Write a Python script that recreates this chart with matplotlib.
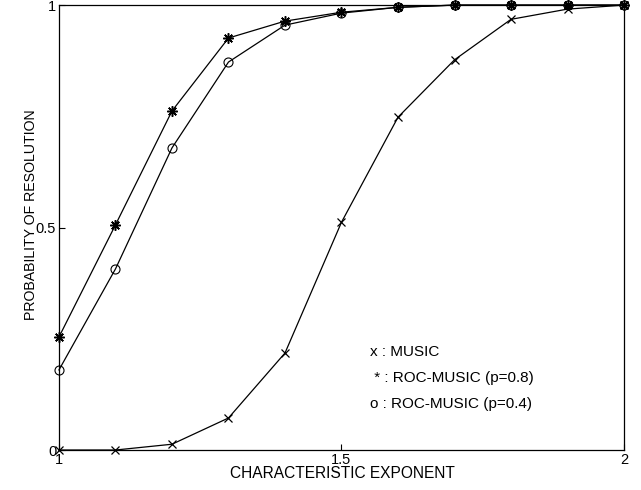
import matplotlib
matplotlib.use("Agg")
from matplotlib import pyplot as plt
import numpy as np

plt.rcParams['font.family'] = ['Liberation Sans', 'DejaVu Sans']

# characteristic exponent
alpha = [1.0, 1.1, 1.2, 1.3, 1.4, 1.5, 1.6, 1.7, 1.8, 1.9, 2.0]

music = [0.0, 0.0, 0.013, 0.072, 0.218, 0.512, 0.748, 0.877, 0.968, 0.991, 1.0]
roc_08 = [0.254, 0.506, 0.762, 0.926, 0.964, 0.984, 0.995, 1.0, 1.0, 1.0, 1.0]
roc_04 = [0.180, 0.407, 0.679, 0.872, 0.955, 0.982, 0.995, 1.0, 1.0, 1.0, 1.0]

legend_lines = ["x : MUSIC", " * : ROC-MUSIC (p=0.8)", "o : ROC-MUSIC (p=0.4)"]

fig = plt.figure(figsize=(6.41, 4.90), dpi=100)
ax = fig.add_axes([0.092, 0.0816, 0.8815, 0.908])

ax.plot(alpha, music, color="black", lw=0.9, marker="x", ms=6, mew=0.9)
ax.plot(alpha, roc_08, color="black", lw=0.9, marker=(8, 2, 0), ms=7.5, mew=1.1)
ax.plot(alpha, roc_04, color="black", lw=0.9, marker="o", ms=6.5, mew=0.8,
        mfc="none")

for ln in ax.lines:
    ln.set_clip_on(False)

ax.set_xlim(1, 2)
ax.set_ylim(0, 1)
ax.set_xticks([1, 1.5, 2])
ax.set_xticklabels(["1", "1.5", "2"])
ax.set_yticks([0, 0.5, 1])
ax.set_yticklabels(["0", "0.5", "1"])
ax.tick_params(direction="in", length=4, width=0.8, labelsize=10.5, pad=2)
for s in ax.spines.values():
    s.set_linewidth(0.9)

ax.set_xlabel("CHARACTERISTIC EXPONENT", fontsize=11.2)
ax.xaxis.set_label_coords(0.502, -0.035)
ax.set_ylabel("PROBABILITY OF RESOLUTION", fontsize=10.2)
ax.yaxis.set_label_coords(-0.038, 0.53)

# legend written as plain text, like the original
ys = [0.22, 0.162, 0.103]
for txt, yy in zip(legend_lines, ys):
    ax.text(1.55, yy, txt, fontsize=11, va="center", ha="left")

fig.savefig("out.png", dpi=100)
